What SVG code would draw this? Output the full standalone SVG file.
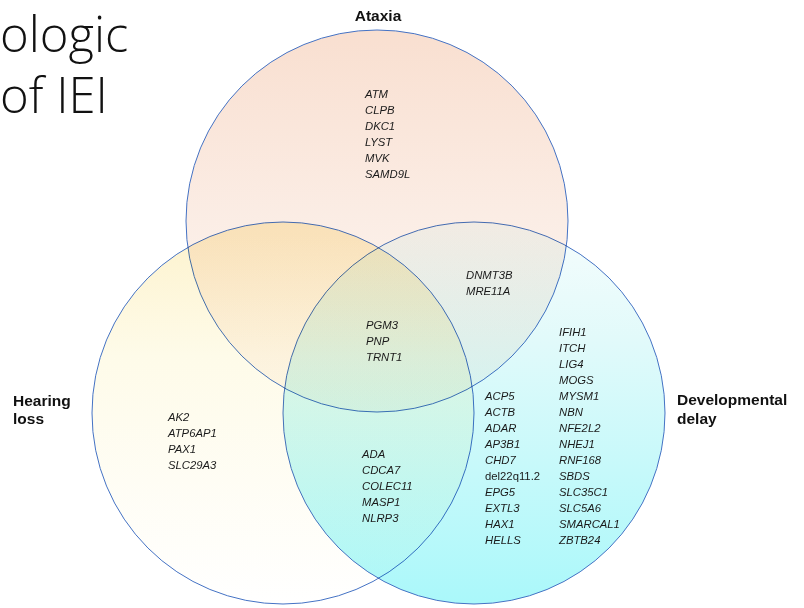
<svg xmlns="http://www.w3.org/2000/svg" width="804" height="608" viewBox="0 0 804 608">
  <defs>
    <linearGradient id="gTop" gradientUnits="userSpaceOnUse" x1="0" y1="30" x2="0" y2="412">
      <stop offset="0" stop-color="#f9dfd0"/>
      <stop offset="0.5" stop-color="#fbede5"/>
      <stop offset="1" stop-color="#fefaf7"/>
    </linearGradient>
    <linearGradient id="gLeft" gradientUnits="userSpaceOnUse" x1="0" y1="222" x2="0" y2="605">
      <stop offset="0" stop-color="#fdf2cc"/>
      <stop offset="0.35" stop-color="#fefbe9"/>
      <stop offset="1" stop-color="#ffffff"/>
    </linearGradient>
    <linearGradient id="gRight" gradientUnits="userSpaceOnUse" x1="0" y1="222" x2="0" y2="605">
      <stop offset="0" stop-color="#f6fdfd"/>
      <stop offset="0.3" stop-color="#e2fafa"/>
      <stop offset="1" stop-color="#aaf8fa"/>
    </linearGradient>
  </defs>
  <style>
    .set { stroke: #4472c4; stroke-width: 1; mix-blend-mode: multiply; }
    .title { font-family: "Open Sans", "Liberation Sans", sans-serif; font-weight: 300; font-size: 49px; fill: #111; }
    .label { font-family: "Liberation Sans", Arial, sans-serif; font-weight: bold; font-size: 15.5px; fill: #111; }
    .gene { font-family: "Liberation Sans", Arial, sans-serif; font-style: italic; font-size: 11.3px; fill: #1a1a1a; }
    .plain { font-style: normal; }
  </style>

  <rect width="804" height="608" fill="#ffffff"/>

  <!-- slide title -->
  <g id="title">
    <text class="title" x="0" y="52">ologic</text>
    <text class="title" x="0" y="113">of IEI</text>
  </g>

  <!-- the three sets -->
  <g id="set-ataxia">
    <circle class="set" cx="377" cy="221" r="191" fill="url(#gTop)"/>
  </g>
  <g id="set-hearing-loss">
    <circle class="set" cx="283" cy="413" r="191" fill="url(#gLeft)"/>
  </g>
  <g id="set-developmental-delay">
    <circle class="set" cx="474" cy="413" r="191" fill="url(#gRight)"/>
  </g>

  <!-- set labels -->
  <g id="label-ataxia">
    <text class="label" x="378" y="21" text-anchor="middle">Ataxia</text>
  </g>
  <g id="label-hearing-loss">
    <text class="label" x="13" y="406">Hearing</text>
    <text class="label" x="13" y="424">loss</text>
  </g>
  <g id="label-developmental-delay">
    <text class="label" x="677" y="405">Developmental</text>
    <text class="label" x="677" y="424">delay</text>
  </g>

  <!-- genes per region -->
  <g id="genes-ataxia-only" class="gene">
    <text x="365" y="98">ATM</text>
    <text x="365" y="114">CLPB</text>
    <text x="365" y="130">DKC1</text>
    <text x="365" y="146">LYST</text>
    <text x="365" y="162">MVK</text>
    <text x="365" y="178">SAMD9L</text>
  </g>
  <g id="genes-ataxia-dd" class="gene">
    <text x="466" y="279">DNMT3B</text>
    <text x="466" y="295">MRE11A</text>
  </g>
  <g id="genes-all-three" class="gene">
    <text x="366" y="329">PGM3</text>
    <text x="366" y="345">PNP</text>
    <text x="366" y="361">TRNT1</text>
  </g>
  <g id="genes-hearing-only" class="gene">
    <text x="168" y="421">AK2</text>
    <text x="168" y="437">ATP6AP1</text>
    <text x="168" y="453">PAX1</text>
    <text x="168" y="469">SLC29A3</text>
  </g>
  <g id="genes-hearing-dd" class="gene">
    <text x="362" y="458">ADA</text>
    <text x="362" y="474">CDCA7</text>
    <text x="362" y="490">COLEC11</text>
    <text x="362" y="506">MASP1</text>
    <text x="362" y="522">NLRP3</text>
  </g>
  <g id="genes-dd-only" class="gene">
    <text x="485" y="400">ACP5</text>
    <text x="485" y="416">ACTB</text>
    <text x="485" y="432">ADAR</text>
    <text x="485" y="448">AP3B1</text>
    <text x="485" y="464">CHD7</text>
    <text x="485" y="480" class="plain">del22q11.2</text>
    <text x="485" y="496">EPG5</text>
    <text x="485" y="512">EXTL3</text>
    <text x="485" y="528">HAX1</text>
    <text x="485" y="544">HELLS</text>
    <text x="559" y="336">IFIH1</text>
    <text x="559" y="352">ITCH</text>
    <text x="559" y="368">LIG4</text>
    <text x="559" y="384">MOGS</text>
    <text x="559" y="400">MYSM1</text>
    <text x="559" y="416">NBN</text>
    <text x="559" y="432">NFE2L2</text>
    <text x="559" y="448">NHEJ1</text>
    <text x="559" y="464">RNF168</text>
    <text x="559" y="480">SBDS</text>
    <text x="559" y="496">SLC35C1</text>
    <text x="559" y="512">SLC5A6</text>
    <text x="559" y="528">SMARCAL1</text>
    <text x="559" y="544">ZBTB24</text>
  </g>
</svg>
